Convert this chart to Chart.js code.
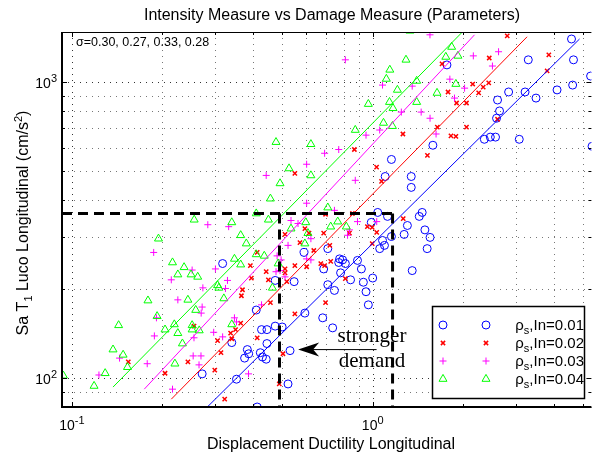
<!DOCTYPE html>
<html><head><meta charset="utf-8">
<script src="https://cdn.jsdelivr.net/npm/chart.js@4.4.0/dist/chart.umd.min.js"></script>
<style>html,body{margin:0;padding:0;background:#fff;}#wrap{width:597px;height:456px;position:relative;overflow:hidden;}</style>
</head><body><div id="wrap"><canvas id="c" width="597" height="456"></canvas></div>
<script>
// ---- axis ranges & ticks ----
const X_MIN = 0.0927, X_MAX = 5.333;
const Y_MIN = 80, Y_MAX = 1476;
const X_GRID = [0.1,0.2,0.3,0.4,0.5,0.6,0.7,0.8,0.9,1,2,3,4,5];
const Y_GRID = [80,90,100,200,300,400,500,600,700,800,900,1000];
const X_TICK_LABELS = [[0.1,'10','-1'],[1,'10','0']];
const Y_TICK_LABELS = [[100,'10','2'],[1000,'10','3']];
const SERIES_NAMES = ['0.01','0.02','0.03','0.04'];
const SIGMAS = ['0.30','0.27','0.33','0.28'];

// ---- series: [displacement ductility, Sa T1] ----
const RHO_001 = [[4.58,1398],[3.29,1189],[4.65,1189],[1.765,1143],[5.30,1048],[4.62,977],[4.10,941],[2.83,926],[3.21,926],[3.49,883],[2.60,870],[2.64,799],[2.58,755],[2.35,641],[2.46,652],[2.56,652],[3.07,641],[5.36,607],[1.585,612],[1.154,548],[1.10,480],[1.343,480],[1.343,441],[1.039,363],[1.12,352],[1.46,363],[1.428,352],[0.989,336],[1.304,328],[1.491,317],[1.272,306],[1.551,299],[1.078,292],[1.094,281],[1.055,274],[1.154,301],[1.517,274],[0.709,274],[1.353,231],[0.776,253],[0.794,251],[0.771,246],[0.811,244],[0.89,250],[0.917,234],[0.782,227],[0.844,215],[1.0,218],[0.931,211],[0.709,207],[0.746,198],[0.95,196],[0.967,177],[0.736,148],[0.591,266],[0.687,234],[0.317,244],[0.41,170],[0.474,214],[0.548,212],[0.427,146],[0.445,146],[0.474,150],[0.5,149],[0.595,166],[0.682,160],[0.34,132],[0.383,125],[0.387,121],[0.375,117],[0.423,122],[0.43,118],[0.4425,116],[0.445,131],[0.531,124],[0.271,103.5],[0.3525,99.3],[0.523,95.7],[0.413,80]];
const RHO_002 = [[2.80,1432],[2.44,1206],[3.85,1236],[1.70,1152],[3.80,1091],[2.43,994],[2.15,985],[2.33,962],[1.78,926],[2.25,919],[1.90,850],[2.05,850],[1.64,705],[2.05,705],[2.60,749],[1.82,658],[1.89,656],[1.26,668],[1.52,566],[0.869,592],[1.03,516],[1.07,462],[0.551,492],[0.697,358],[0.856,360],[0.96,325],[0.996,323],[0.837,309],[1.031,311],[1.263,346],[0.996,285],[0.72,281],[0.725,248],[0.811,217],[0.511,306],[0.595,320],[0.614,309],[0.687,309],[0.573,287],[0.637,270],[0.511,234],[0.511,227],[0.551,240],[0.603,238],[0.672,244],[0.692,240],[0.518,212],[0.413,266],[0.392,240],[0.395,218],[0.369,199],[0.366,190],[0.4425,229],[0.45,215],[0.457,180],[0.364,153.5],[0.35,146],[0.305,134],[0.337,142],[0.34,136],[0.313,122],[0.413,137],[0.551,165],[0.697,180],[0.503,121],[0.489,95.7],[0.322,85],[0.2985,106.5],[0.2546,150],[0.243,113.6],[0.154,113.6],[0.204,104]];
const RHO_003 = [[1.55,1444],[0.811,1189],[2.16,1226],[2.62,1266],[2.50,1133],[1.078,977],[1.353,969],[1.805,1023],[2.02,954],[1.87,883],[1.245,792],[1.449,792],[1.551,755],[1.055,689],[1.624,668],[0.95,662],[0.771,592],[0.692,575],[0.603,528],[0.4425,484],[0.875,466],[0.603,390],[0.746,369],[0.535,341],[0.5646,333],[0.89,338],[1.031,338],[0.837,317],[0.825,304],[0.283,330],[0.332,325],[0.623,296],[0.523,281],[0.187,266],[0.481,259],[0.496,251],[0.603,253],[0.623,251],[0.30,234],[0.251,232],[0.477,229],[0.492,231],[0.214,215],[0.329,214],[0.511,220],[0.2725,202],[0.324,201],[0.225,184],[0.271,174],[0.269,166],[0.427,177],[0.191,160],[0.347,160],[0.3525,155],[0.296,143],[0.317,138],[0.188,139],[0.2546,137],[0.144,117],[0.253,119],[0.2686,119],[0.178,112],[0.2646,111],[0.3865,103.5],[0.123,102.6],[0.216,91.9]];
const RHO_004 = [[1.33,1490],[1.83,1314],[1.75,1216],[1.92,1226],[1.29,1189],[1.14,1100],[1.11,1025],[1.40,1009],[1.89,985],[1.208,941],[1.636,919],[1.137,856],[0.967,843],[1.168,816],[1.40,856],[1.086,728],[1.163,710],[0.875,689],[0.477,627],[0.623,617],[0.527,511],[0.623,484],[0.492,455],[0.457,404],[0.41,360],[0.45,343],[0.255,343],[0.34,336],[0.535,320],[0.599,336],[0.609,309],[0.595,285],[0.709,377],[0.765,338],[0.725,325],[0.817,325],[0.194,296],[0.364,304],[0.38,285],[0.216,246],[0.236,237],[0.225,224],[0.249,224],[0.262,220],[0.347,253],[0.364,242],[0.41,262],[0.436,259],[0.485,244],[0.464,202],[0.305,206],[0.308,202],[0.32,186],[0.179,183],[0.243,184],[0.258,170],[0.192,162],[0.143,151],[0.204,146],[0.219,152],[0.251,151],[0.251,146],[0.265,145],[0.225,142],[0.233,131],[0.34,152],[0.137,125],[0.148,120],[0.153,109],[0.22,112],[0.129,104],[0.0937,102],[0.1185,94.2]];

// ---- fitted lines (end points) ----
const FIT_001_X = [0.277, 4.87],  FIT_001_Y = [78.6, 1398];
const FIT_002_X = [0.214, 3.26],  FIT_002_Y = [85.0, 1422];
const FIT_003_X = [0.174, 2.18],  FIT_003_Y = [91.9, 1444];
const FIT_004_X = [0.137, 1.99],  FIT_004_Y = [93.4, 1479];

// ---- threshold box & annotation ----
const SA_THRESHOLD = 360;
const MU_LOW = 0.49, MU_HIGH = 1.164;
const ARROW_FROM = [1.03, 125], ARROW_TO = [0.565, 125];

const COLORS = ['#0000ff','#ff0000','#ff00ff','#00ff00'];
const STYLES = [['circle',4,1],['crossRot',3,1.5],['cross',3.5,1],['triangle',4.6,1]];
const pts = a => a.map(p => ({x:p[0], y:p[1]}));
const xy = (xs, ys) => xs.map((v,i) => ({x:v, y:ys[i]}));
const scat = (arr, i) => ({data:pts(arr), showLine:false, pointStyle:STYLES[i][0], pointRadius:STYLES[i][1], pointHoverRadius:STYLES[i][1], pointBorderColor:COLORS[i], pointBackgroundColor:'rgba(0,0,0,0)', pointBorderWidth:STYLES[i][2], clip:0});
const lin = (data, color, w, dash) => ({data, showLine:true, borderColor:color, borderWidth:w, borderDash:dash||[], pointRadius:0, pointHoverRadius:0, fill:false, tension:0, clip:0});
const datasets = [
  lin(xy([X_MIN, MU_HIGH],[SA_THRESHOLD, SA_THRESHOLD]), '#000', 3, [10,6]),
  lin(xy([MU_LOW, MU_LOW],[SA_THRESHOLD, Y_MIN]), '#000', 3, [10,6]),
  lin(xy([MU_HIGH, MU_HIGH],[SA_THRESHOLD, Y_MIN]), '#000', 3, [10,6]),
  lin(xy(FIT_001_X, FIT_001_Y), COLORS[0], 1),
  lin(xy(FIT_002_X, FIT_002_Y), COLORS[1], 1),
  lin(xy(FIT_003_X, FIT_003_Y), COLORS[2], 1),
  lin(xy(FIT_004_X, FIT_004_Y), COLORS[3], 1),
  scat(RHO_004, 3), scat(RHO_003, 2), scat(RHO_002, 1), scat(RHO_001, 0)
];
const SANS = '"Liberation Sans", Arial, Helvetica, sans-serif';
const SERIF = '"Liberation Serif", "Times New Roman", serif';
function rich(ctx, parts, x, y, align, fam) {
  let w = 0;
  parts.forEach(p => { ctx.font = p[1] + 'px ' + fam; w += ctx.measureText(p[0]).width; });
  let sx = align === 'center' ? x - w/2 : (align === 'right' ? x - w : x);
  ctx.textAlign = 'left'; ctx.textBaseline = 'alphabetic';
  parts.forEach(p => { ctx.font = p[1] + 'px ' + fam; ctx.fillText(p[0], sx, y + p[2]); sx += ctx.measureText(p[0]).width; });
}
const isMajor = v => Math.abs(Math.log10(v) - Math.round(Math.log10(v))) < 1e-9;
const deco = {
  id: 'deco',
  beforeDatasetsDraw(chart) {
    const {ctx, chartArea:a, scales:{x, y}} = chart;
    ctx.save(); ctx.lineWidth = 1; ctx.setLineDash([1,5]);
    X_GRID.forEach(v => { const px = Math.round(x.getPixelForValue(v)) + 0.5; ctx.strokeStyle = isMajor(v) ? '#333' : '#777'; ctx.beginPath(); ctx.moveTo(px, a.top); ctx.lineTo(px, a.bottom); ctx.stroke(); });
    Y_GRID.forEach(v => { const py = Math.round(y.getPixelForValue(v)) + 0.5; ctx.strokeStyle = isMajor(v) ? '#333' : '#777'; ctx.beginPath(); ctx.moveTo(a.left, py); ctx.lineTo(a.right, py); ctx.stroke(); });
    ctx.restore();
  },
  afterDatasetsDraw(chart) {
    const {ctx, chartArea:a, scales:{x, y}} = chart;
    const H = Chart.helpers;
    ctx.save(); ctx.setLineDash([]);
    ctx.strokeStyle = '#000'; ctx.lineWidth = 1;
    ctx.beginPath(); ctx.moveTo(a.left, a.top + 0.5); ctx.lineTo(a.right, a.top + 0.5); ctx.stroke();
    ctx.lineWidth = 2;
    ctx.beginPath(); ctx.moveTo(a.left, a.top); ctx.lineTo(a.left, a.bottom); ctx.lineTo(a.right, a.bottom); ctx.stroke();
    ctx.lineWidth = 1;
    X_GRID.forEach(v => { const px = Math.round(x.getPixelForValue(v)) + 0.5; const L = isMajor(v) ? 5 : 3; ctx.beginPath(); ctx.moveTo(px, a.bottom); ctx.lineTo(px, a.bottom - L); ctx.moveTo(px, a.top); ctx.lineTo(px, a.top + L); ctx.stroke(); });
    Y_GRID.forEach(v => { const py = Math.round(y.getPixelForValue(v)) + 0.5; const L = isMajor(v) ? 5 : 3; ctx.beginPath(); ctx.moveTo(a.left, py); ctx.lineTo(a.left + L, py); ctx.moveTo(a.right, py); ctx.lineTo(a.right - L, py); ctx.stroke(); });
    ctx.fillStyle = '#000';
    X_TICK_LABELS.forEach(t => rich(ctx, [[t[1],14,0],[t[2],11,-6]], x.getPixelForValue(t[0]), a.bottom + 23, 'center', SANS));
    Y_TICK_LABELS.forEach(t => rich(ctx, [[t[1],14,0],[t[2],11,-6]], a.left - 5, y.getPixelForValue(t[0]) + 6, 'right', SANS));
    rich(ctx, [['Intensity Measure vs Damage Measure (Parameters)',16,0]], 332, 20, 'center', SANS);
    rich(ctx, [['Displacement Ductility Longitudinal',16,0]], 331, 449, 'center', SANS);
    ctx.save(); ctx.translate(28, 223); ctx.rotate(-Math.PI/2);
    rich(ctx, [['Sa T',16,0],['1',11,4],[' Luco Longitudinal (cm/s',16,0],['2',11,-6],[')',16,0]], 0, 0, 'center', SANS);
    ctx.restore();
    rich(ctx, [['\u03c3=' + SIGMAS.join(', '),12.5,0]], a.left + 14, a.top + 14, 'left', SANS);
    // legend
    const bx = 432, by = 306, bw = 152, bh = 92;
    ctx.fillStyle = '#fff'; ctx.fillRect(bx, by, bw, bh);
    ctx.strokeStyle = '#000'; ctx.lineWidth = 1.5; ctx.strokeRect(bx + 0.5, by + 0.5, bw, bh);
    SERIES_NAMES.forEach((n, i) => {
      const ry = 325 + i * 18;
      ctx.strokeStyle = COLORS[i]; ctx.fillStyle = 'rgba(0,0,0,0)'; ctx.lineWidth = STYLES[i][2];
      const o = {pointStyle:STYLES[i][0], radius:STYLES[i][1], rotation:0, borderWidth:STYLES[i][2]};
      H.drawPoint(ctx, o, 443, ry); H.drawPoint(ctx, o, 486, ry);
      ctx.fillStyle = '#000';
      rich(ctx, [['\u03c1',15,0],['s',11,4],[',In=' + n,15,0]], 584, ry + 5, 'right', SANS);
    });
    // annotation
    ctx.fillStyle = '#000';
    rich(ctx, [['stronger',21,0]], 372, 342, 'center', SERIF);
    rich(ctx, [['demand',21,0]], 372, 367, 'center', SERIF);
    const ax0 = x.getPixelForValue(ARROW_FROM[0]), ay = y.getPixelForValue(ARROW_FROM[1]);
    const ax1 = x.getPixelForValue(ARROW_TO[0]);
    ctx.strokeStyle = '#000'; ctx.lineWidth = 1;
    ctx.beginPath(); ctx.moveTo(ax0, ay); ctx.lineTo(ax1 + 14, ay); ctx.stroke();
    ctx.beginPath(); ctx.moveTo(ax1, ay); ctx.lineTo(ax1 + 21, ay - 7); ctx.lineTo(ax1 + 15, ay); ctx.lineTo(ax1 + 21, ay + 7); ctx.closePath(); ctx.fill();
    ctx.restore();
  }
};
new Chart(document.getElementById('c'), {
  type: 'scatter', data: {datasets},
  options: {
    responsive: false, animation: false, devicePixelRatio: 1, events: [],
    layout: {padding: {left: 62, top: 32, right: 0, bottom: 49}},
    scales: { x: {type: 'logarithmic', min: X_MIN, max: X_MAX, display: false}, y: {type: 'logarithmic', min: Y_MIN, max: Y_MAX, display: false} },
    plugins: {legend: {display: false}, tooltip: {enabled: false}, title: {display: false}}
  },
  plugins: [deco]
});
</script></body></html>
